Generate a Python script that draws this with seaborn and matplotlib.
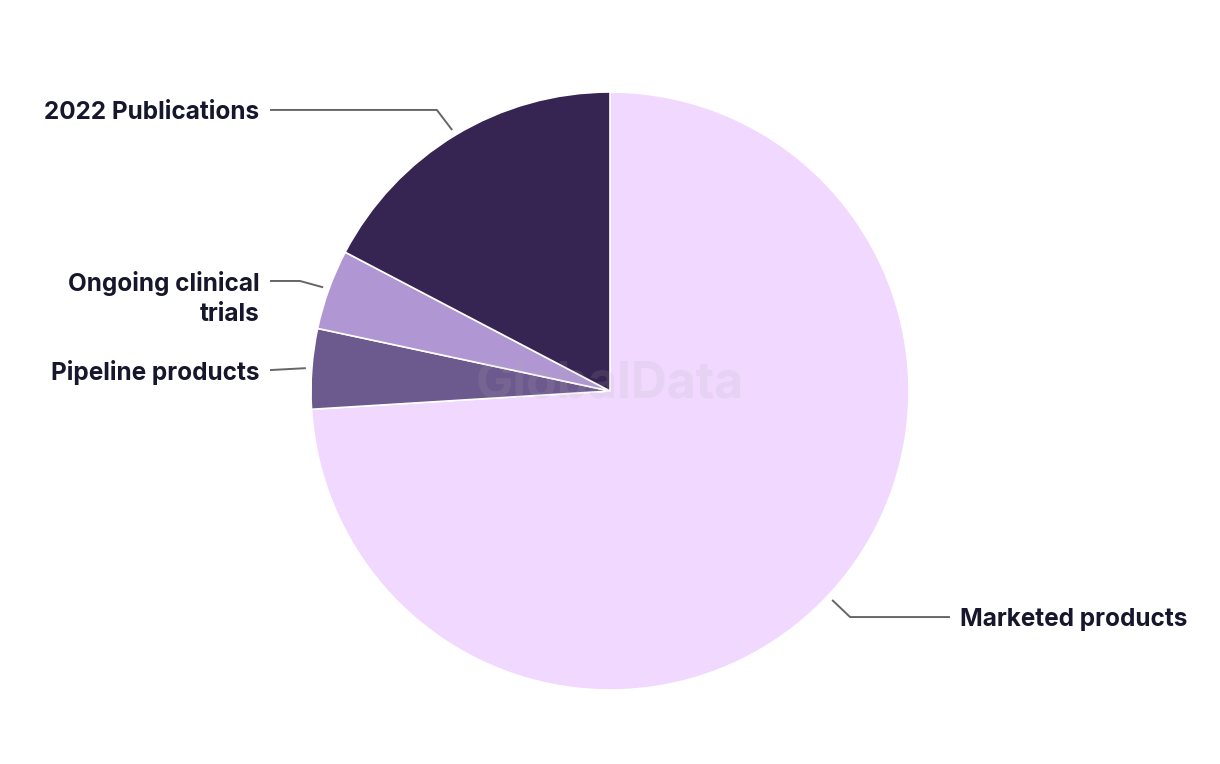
import numpy as np
import matplotlib
matplotlib.use("Agg")
import matplotlib.pyplot as plt
import seaborn as sns

# slice data, clockwise from 12 o'clock
categories = ["Marketed products", "Pipeline products", "Ongoing clinical trials", "2022 Publications"]
labels = [["Marketed products"], ["Pipeline products"], ["Ongoing clinical", "trials"], ["2022 Publications"]]
values = [171, 10, 10, 40]
colors = ["#F0D8FE", "#6C598D", "#B096D2", "#362452"]

sns.set_theme(style="white")
plt.rcParams['font.family'] = ['Inter', 'DejaVu Sans']

W, H = 1220, 764
fig = plt.figure(figsize=(W / 100, H / 100), dpi=100)
cx, cy, R = 610, 391, 299
ax = fig.add_axes([(cx - R) / W, (H - cy - R) / H, 2 * R / W, 2 * R / H])

wedges, _ = ax.pie(values, colors=colors, startangle=90, counterclock=False,
                   radius=1, wedgeprops=dict(edgecolor="white", linewidth=1.2))
ax.set_xlim(-1, 1)
ax.set_ylim(-1, 1)
ax.axis("off")

# leader layout: elbow point and label anchor (axes-radius units)
layout = {
    "Marketed products": ((0.803, -0.756), (1.137, -0.756), "left"),
    "Pipeline products": ((-1.02, 0.07), (-1.137, 0.07), "right"),
    "Ongoing clinical trials": ((-1.037, 0.368), (-1.137, 0.368), "right"),
    "2022 Publications": ((-0.579, 0.940), (-1.137, 0.940), "right"),
}
line_gap = 31 / R

for w, cat, lab in zip(wedges, categories, labels):
    mid = np.deg2rad((w.theta1 + w.theta2) / 2)
    sx, sy = 1.02 * np.cos(mid), 1.02 * np.sin(mid)
    (ex, ey), (lx, ly), ha = layout[cat]
    if cat == "Pipeline products":
        ey = sy
    ax.plot([sx, ex, lx], [sy, ey, ly], color="#666666", lw=1.4,
            clip_on=False, solid_capstyle="butt")
    tx = lx + (0.035 if ha == "left" else -0.035)
    for i, part in enumerate(lab):
        ax.text(tx, ly - i * line_gap - 0.008, part, ha=ha, va="center",
                fontsize=17.5, fontweight="bold", color="#16162C", clip_on=False)

ax.text(0, 0.02, "GlobalData", ha="center", va="center", fontsize=36,
        fontweight="bold", color="#b0b0b0", alpha=0.15)

fig.savefig("out.png", dpi=100, facecolor="white")
